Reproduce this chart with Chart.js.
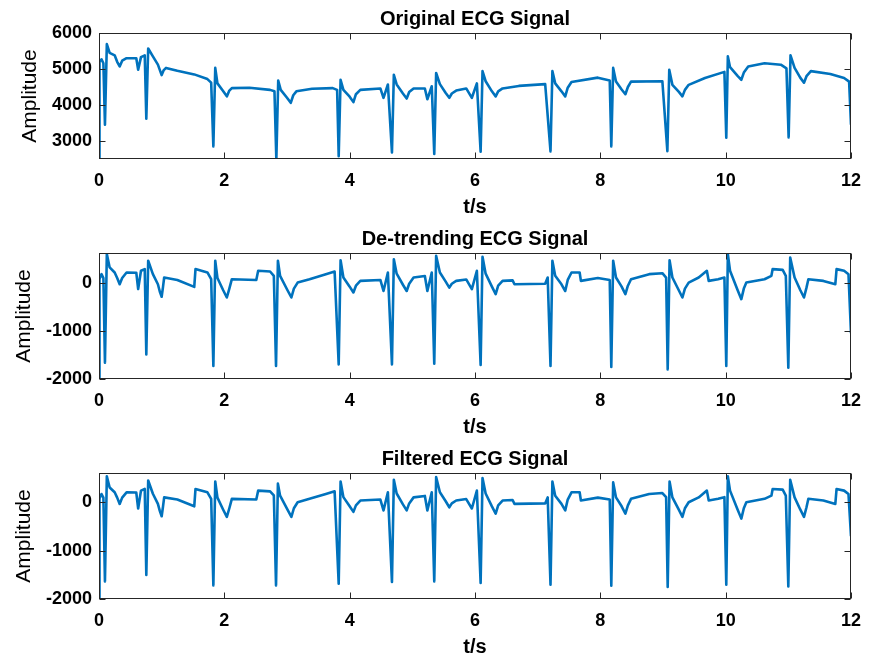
<!DOCTYPE html>
<html><head><meta charset="utf-8">
<script src="https://cdn.jsdelivr.net/npm/chart.js@4.4.1/dist/chart.umd.min.js"></script>
<style>
html,body{margin:0;padding:0;background:#fff;}
#wrap{position:relative;width:874px;height:657px;overflow:hidden;}
.panel{position:absolute;left:0;width:874px;height:217px;}
canvas{display:block;}
</style></head><body>
<div id="wrap">
<div class="panel" style="top:0px"><canvas id="c1" width="874" height="217"></canvas></div>
<div class="panel" style="top:220px"><canvas id="c2" width="874" height="217"></canvas></div>
<div class="panel" style="top:440px"><canvas id="c3" width="874" height="217"></canvas></div>
</div>
<script>
// ---- data ----
const panelTitles = ["Original ECG Signal", "De-trending ECG Signal", "Filtered ECG Signal"];
const xLabel = "t/s";
const yLabel = "Amplitude";
const xTickValues = [0, 2, 4, 6, 8, 10, 12];
const yTicksOriginal = [3000, 4000, 5000, 6000];
const yTicksDetrended = [-2000, -1000, 0];

// [time (s), amplitude]
const originalSignal = [[0,2400],[0.008,5200],[0.04,5270],[0.07,5160],[0.095,3450],[0.125,5690],[0.17,5450],[0.25,5380],[0.29,5200],[0.33,5070],[0.37,5230],[0.44,5300],[0.595,5300],[0.625,4980],[0.67,5330],[0.73,5380],[0.755,3620],[0.785,5570],[0.86,5350],[0.94,5120],[1.0,4830],[1.03,4960],[1.07,5030],[1.25,4950],[1.52,4850],[1.73,4720],[1.79,4620],[1.825,2850],[1.855,5030],[1.89,4600],[1.98,4390],[2.04,4240],[2.08,4400],[2.12,4470],[2.4,4480],[2.73,4420],[2.8,4380],[2.83,2480],[2.86,4680],[2.9,4420],[3.0,4200],[3.06,4060],[3.1,4270],[3.15,4380],[3.4,4450],[3.73,4470],[3.8,4420],[3.825,2580],[3.855,4700],[3.9,4420],[4.0,4230],[4.06,4080],[4.1,4300],[4.17,4420],[4.49,4460],[4.54,4200],[4.61,4570],[4.675,2680],[4.705,4840],[4.75,4570],[4.85,4320],[4.91,4180],[4.95,4360],[5.02,4460],[5.2,4460],[5.24,4160],[5.31,4520],[5.35,2640],[5.38,4890],[5.44,4580],[5.53,4340],[5.59,4200],[5.63,4320],[5.7,4400],[5.86,4460],[5.95,4200],[6.03,4600],[6.09,2700],[6.12,4940],[6.17,4660],[6.27,4380],[6.33,4240],[6.37,4380],[6.44,4460],[6.7,4530],[7.12,4580],[7.205,2710],[7.235,4940],[7.28,4600],[7.38,4380],[7.44,4240],[7.48,4480],[7.54,4640],[7.96,4760],[8.15,4680],[8.175,2850],[8.205,5030],[8.25,4650],[8.34,4430],[8.4,4300],[8.44,4500],[8.49,4650],[8.99,4660],[9.07,2720],[9.1,4980],[9.15,4560],[9.25,4370],[9.31,4240],[9.35,4420],[9.41,4560],[9.67,4750],[9.98,4920],[10.01,3090],[10.035,5350],[10.07,5050],[10.19,4810],[10.25,4700],[10.29,4900],[10.36,5070],[10.62,5160],[10.88,5120],[10.97,5020],[11.005,3100],[11.035,5380],[11.1,5030],[11.19,4760],[11.25,4620],[11.29,4800],[11.36,4940],[11.67,4860],[11.89,4750],[11.97,4650],[12.0,3450]];

const detrendedSignal = [[0,-2000],[0.008,80],[0.04,180],[0.07,100],[0.095,-1660],[0.125,600],[0.17,320],[0.25,215],[0.29,100],[0.33,-30],[0.37,100],[0.44,215],[0.595,210],[0.625,-130],[0.67,250],[0.73,285],[0.755,-1490],[0.785,460],[0.86,180],[0.94,-30],[0.97,-180],[1.0,-290],[1.02,-100],[1.04,110],[1.25,60],[1.52,-85],[1.54,285],[1.73,215],[1.79,75],[1.825,-1730],[1.855,460],[1.89,100],[1.98,-150],[2.04,-305],[2.08,-120],[2.12,75],[2.51,60],[2.54,250],[2.73,235],[2.79,145],[2.825,-1730],[2.855,460],[2.89,145],[3.01,-160],[3.07,-305],[3.11,-120],[3.17,5],[3.36,75],[3.62,180],[3.76,235],[3.825,-1695],[3.855,470],[3.9,110],[4.0,-80],[4.06,-200],[4.1,-60],[4.17,40],[4.49,60],[4.54,-170],[4.61,215],[4.675,-1695],[4.705,490],[4.75,190],[4.85,-40],[4.91,-170],[4.95,-20],[5.02,110],[5.2,140],[5.24,-170],[5.31,215],[5.35,-1680],[5.38,560],[5.44,215],[5.53,30],[5.59,-100],[5.63,-20],[5.7,40],[5.86,70],[5.95,-130],[6.03,250],[6.09,-1710],[6.12,540],[6.17,190],[6.27,-80],[6.33,-235],[6.37,-60],[6.44,40],[6.6,50],[6.63,-30],[7.12,-20],[7.16,110],[7.205,-1730],[7.235,460],[7.28,145],[7.38,-30],[7.44,-170],[7.48,60],[7.54,215],[7.67,215],[7.69,40],[7.96,100],[8.15,60],[8.175,-1750],[8.205,460],[8.25,110],[8.34,-80],[8.4,-235],[8.44,-60],[8.49,75],[8.78,180],[8.99,200],[9.05,110],[9.075,-1800],[9.105,470],[9.15,110],[9.25,-150],[9.31,-305],[9.35,-120],[9.41,5],[9.57,110],[9.7,250],[9.73,40],[9.88,75],[9.98,110],[10.01,-1730],[10.035,595],[10.07,250],[10.19,-150],[10.25,-340],[10.29,-120],[10.33,5],[10.62,75],[10.73,145],[10.75,285],[10.91,270],[10.96,145],[11.0,-1765],[11.03,525],[11.1,110],[11.19,-150],[11.25,-305],[11.29,-100],[11.32,75],[11.56,40],[11.75,-30],[11.77,285],[11.89,250],[11.96,180],[12.0,-1050]];

const filteredSignal = [[0,-2000],[0.008,80],[0.04,175],[0.07,100],[0.095,-1635],[0.125,540],[0.17,310],[0.25,210],[0.29,100],[0.33,-30],[0.37,100],[0.44,210],[0.595,205],[0.625,-125],[0.67,245],[0.73,280],[0.755,-1500],[0.785,455],[0.86,180],[0.94,-30],[0.97,-175],[1.0,-285],[1.02,-100],[1.04,105],[1.25,60],[1.52,-80],[1.54,280],[1.73,210],[1.79,75],[1.825,-1718],[1.855,435],[1.89,100],[1.98,-145],[2.04,-300],[2.08,-120],[2.12,75],[2.51,60],[2.54,245],[2.73,230],[2.79,145],[2.825,-1718],[2.855,390],[2.89,140],[3.01,-155],[3.07,-300],[3.11,-120],[3.17,5],[3.36,75],[3.62,175],[3.76,230],[3.825,-1683],[3.855,435],[3.9,110],[4.0,-80],[4.06,-195],[4.1,-60],[4.17,40],[4.49,60],[4.54,-165],[4.61,210],[4.675,-1648],[4.705,470],[4.75,185],[4.85,-40],[4.91,-165],[4.95,-20],[5.02,105],[5.2,135],[5.24,-165],[5.31,210],[5.35,-1635],[5.38,525],[5.44,210],[5.53,30],[5.59,-100],[5.63,-20],[5.7,40],[5.86,70],[5.95,-125],[6.03,245],[6.09,-1670],[6.12,505],[6.17,185],[6.27,-80],[6.33,-230],[6.37,-60],[6.44,40],[6.6,50],[6.63,-30],[7.12,-20],[7.16,105],[7.205,-1705],[7.235,435],[7.28,140],[7.38,-30],[7.44,-165],[7.48,60],[7.54,210],[7.67,210],[7.69,40],[7.96,100],[8.15,60],[8.175,-1725],[8.205,415],[8.25,105],[8.34,-80],[8.4,-230],[8.44,-60],[8.49,75],[8.78,175],[8.99,195],[9.05,110],[9.075,-1750],[9.105,435],[9.15,105],[9.25,-145],[9.31,-300],[9.35,-120],[9.41,5],[9.57,105],[9.7,245],[9.73,40],[9.88,75],[9.98,110],[10.01,-1705],[10.035,540],[10.07,245],[10.19,-145],[10.25,-335],[10.29,-120],[10.33,5],[10.62,75],[10.73,140],[10.75,280],[10.91,265],[10.96,140],[11.0,-1740],[11.03,470],[11.1,105],[11.19,-145],[11.25,-300],[11.29,-100],[11.32,75],[11.56,40],[11.75,-30],[11.77,280],[11.89,245],[11.96,175],[12.0,-700]];

// ---- rendering ----
const FONT = "'Liberation Sans', Arial, Helvetica, sans-serif";
const LINE_COLOR = '#0072BD';
const AXIS_COLOR = '#262626';

const boxTicksPlugin = {
  id: 'boxTicks',
  afterDatasetsDraw(chart) {
    const {ctx, chartArea, scales} = chart;
    const {left, right, top, bottom} = chartArea;
    const L = Math.round(left) + 0.5, R = Math.round(right) - 0.5;
    const T = Math.round(top) + 0.5, B = Math.round(bottom) - 0.5;
    ctx.save();
    ctx.strokeStyle = AXIS_COLOR;
    ctx.lineWidth = 1;
    ctx.beginPath();
    const len = 6;
    scales.x.ticks.forEach(t => {
      const px = Math.round(scales.x.getPixelForValue(t.value)) + 0.5;
      ctx.moveTo(px, B); ctx.lineTo(px, B - len);
      ctx.moveTo(px, T); ctx.lineTo(px, T + len);
    });
    scales.y.ticks.forEach(t => {
      const py = Math.round(scales.y.getPixelForValue(t.value)) + 0.5;
      ctx.moveTo(L, py); ctx.lineTo(L + len, py);
      ctx.moveTo(R, py); ctx.lineTo(R - len, py);
    });
    ctx.stroke();
    ctx.strokeRect(L, T, R - L, B - T);
    ctx.restore();
  }
};

function makeChart(id, title, series, yMin, yMax, yTicks, yTitleOffset) {
  const ctx = document.getElementById(id);
  return new Chart(ctx, {
    type: 'line',
    data: {
      datasets: [{
        data: series.map(p => ({x: p[0], y: p[1]})),
        borderColor: LINE_COLOR,
        borderWidth: 2.6,
        borderJoinStyle: 'round',
        pointRadius: 0,
        tension: 0,
        fill: false
      }]
    },
    options: {
      responsive: false,
      animation: false,
      events: [],
      layout: {padding: {left: 0, right: 15, top: 0, bottom: 0}},
      plugins: {
        legend: {display: false},
        tooltip: {enabled: false},
        title: {
          display: true,
          text: title,
          color: '#000',
          fullSize: false,
          font: {family: FONT, size: 20, weight: 'bold', lineHeight: 1.2},
          padding: {top: 7, bottom: 2}
        }
      },
      scales: {
        x: {
          type: 'linear',
          min: 0, max: 12,
          afterBuildTicks: s => { s.ticks = xTickValues.map(v => ({value: v})); },
          afterFit: s => { s.height = 58; },
          grid: {display: false, drawTicks: false},
          border: {display: false},
          ticks: {
            color: '#000', padding: 13, maxRotation: 0, autoSkip: false,
            callback: v => String(v),
            font: {family: FONT, size: 18, weight: 'bold', lineHeight: 1}
          },
          title: {
            display: true, text: xLabel, color: '#000',
            font: {family: FONT, size: 20, weight: 'bold', lineHeight: 1},
            padding: {top: 0, bottom: 0}
          }
        },
        y: {
          type: 'linear',
          min: yMin, max: yMax,
          afterBuildTicks: s => { s.ticks = yTicks.map(v => ({value: v})); },
          afterFit: s => { s.width = 99; },
          grid: {display: false, drawTicks: false},
          border: {display: false},
          ticks: {
            color: '#000', padding: 7, autoSkip: false,
            callback: v => String(v),
            font: {family: FONT, size: 18, weight: 'bold', lineHeight: 1}
          },
          title: {
            display: true, text: yLabel, color: '#000',
            font: {family: FONT, size: 21, weight: 'normal', lineHeight: 1},
            padding: {top: yTitleOffset, bottom: 0}
          }
        }
      }
    },
    plugins: [boxTicksPlugin]
  });
}

makeChart('c1', panelTitles[0], originalSignal, 2500, 6000, yTicksOriginal, 19.5);
makeChart('c2', panelTitles[1], detrendedSignal, -2000, 620, yTicksDetrended, 13.5);
makeChart('c3', panelTitles[2], filteredSignal, -2000, 610, yTicksDetrended, 13.5);
</script>
</body></html>
